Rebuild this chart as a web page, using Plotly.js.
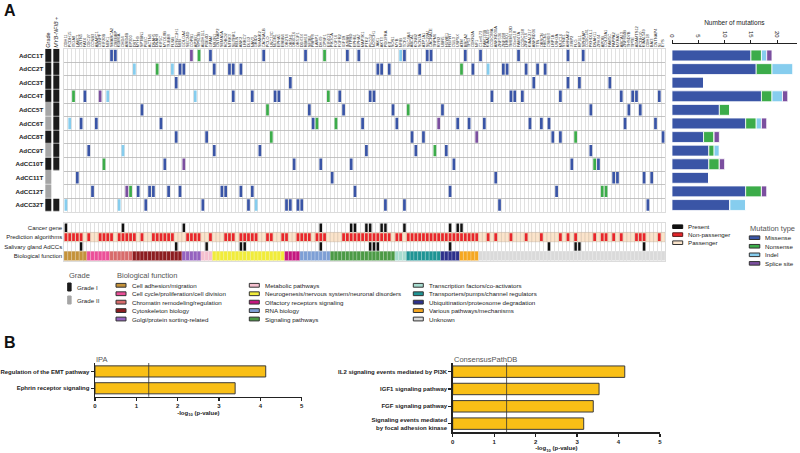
<!DOCTYPE html>
<html>
<head>
<meta charset="utf-8">
<script src="https://cdn.plot.ly/plotly-3.0.1.min.js"></script>
<style>
  body { margin: 0; background: #fff; }
  #chart { width: 800px; height: 453px; }
</style>
</head>
<body>
<div id="chart"></div>
<script>
// ---- data ----
const samples = ['AdCC1T', 'AdCC2T', 'AdCC3T', 'AdCC4T', 'AdCC5T', 'AdCC6T', 'AdCC8T', 'AdCC9T', 'AdCC10T', 'AdCC11T', 'AdCC12T', 'AdCC32T'];
const grade = [1, 1, 1, 1, 2, 2, 1, 2, 1, 2, 2, 1];
const mybNfib = [1, 1, 1, 1, 1, 1, 1, 1, 1, 0, 0, 1];

const genes = ('CDH11 PCDH15 ITGA8 LAMC1 CNTN5 FAT4 CDC27 CCNB3 ANAPC1 CENPF KIF20B NEK1 ' +
  'SMARCA2 CREBBP KDM6A CHD4 ARID4B EP300 DST MYH9 SPTBN1 PLEC ACTN4 DNAH5 DNAH9 KIF5C MYO18B TUBB8 FLNB DYNC1H1 NEB ' +
  'GOLGA4 SEC24D COPB1 AP3B1 VPS13B ALDH1L1 PDE4D GPAM ' +
  'NRXN1 CNTNAP2 SEMA5A ROBO2 NTRK3 SLITRK1 RELN ANK2 LRRC7 DLG2 NAV3 GRID2 SHANK2 CACNA1B PCLO UNC13C NLGN1 EPHA5 ERBB4 ' +
  'OR2T4 OR5H1 OR4C16 OR51F1 DDX3X RBM10 SF3B1 PRPF8 LARP1 DHX9 CPSF1 EIF4G3 ' +
  'PIK3CA FGF16 FGFR2 IGF1R INSRR PTPRD EPHB1 EPHA7 MAP3K1 PTK2 PLCG2 NOTCH1 JAK1 AKT3 PDGFRA KIT SOS1 ' +
  'MYB NFIB TCF4 SLC4A4 ABCA1 KCNB2 SCN3A ATP1A1 SLC22A1 CACNA1E TRPM6 RYR2 UBR5 HUWE1 FBXW7 CUL3 USP9X ATM BRCA2 TP53 CDKN2A NF1 ' +
  'C1orf173 FAM135B KIAA1109 CCDC88A ANKRD30A ZNF536 ZNF208 LRRIQ1 TMEM132D C6orf118 FAM47A CCDC168 ZNF716 KIAA1217 ANKRD36 TTN OBSCN ' +
  'HMCN1 CSMD3 LRP1B USH2A MUC16 SYNE1 AHNAK2 XIRP2 FLG RP1L1 SPHKAP CCDC141 PKHD1L1 DNAH11 ZFHX4 APOB COL22A1 FAM5C PAPPA2 MXRA5 ' +
  'ABCA13 ZNF804B THSD7B TPTE ADAMTS12 PCDH10 KIAA1549 CDH18 BAI3 CNTNAP4 SI EYS').split(' ');

// mutated gene columns per sample (one list per row)
const missense = [
  [12, 13, 38, 52, 63, 74, 77, 89, 95, 96, 105, 109, 119, 132, 136],
  [30, 31, 39, 43, 44, 46, 82, 83, 85, 93, 107, 115, 116, 121, 124, 126],
  [29, 59, 123, 132, 135, 143],
  [5, 44, 49, 55, 56, 72, 80, 81, 112, 117, 118, 120, 130, 146, 149, 150, 156],
  [20, 64, 73, 86, 99, 138, 148, 151],
  [4, 8, 25, 65, 78, 87, 103, 106, 110, 122, 125, 127, 147, 155],
  [29, 37, 91, 94, 128, 130, 157],
  [6, 39, 51, 79, 92, 100, 138],
  [26, 60, 67, 75, 102, 133, 140],
  [3, 70, 113, 144, 145, 152, 154],
  [7, 19, 22, 23, 27, 30, 41, 42, 46, 49, 76, 101, 129],
  [21, 36, 48, 58, 59, 61, 62, 84, 89, 114, 153]
];
const nonsense = [[35, 68], [24, 104], [], [2, 69], [53, 90], [66, 71], [54, 134], [97], [10, 139], [], [17, 141, 142], []];
const indel = [[88], [18, 28, 111], [], [11, 34], [], [1], [], [15], [], [], [], [0, 14, 50]];
const splice = [[33], [], [], [9], [], [98], [108], [], [31], [], [16], []];

// bar chart: number of mutations per sample
const missenseCount = [15, 16, 6, 17, 9, 14, 6, 7, 7, 7, 14, 11];
const nonsenseCount = [2, 3, 0, 2, 2, 2, 2, 1, 2, 0, 3, 0];
const indelCount = [1, 4, 0, 2, 0, 1, 0, 1, 0, 0, 0, 3];
const spliceCount = [1, 0, 0, 1, 0, 1, 1, 0, 1, 0, 1, 0];

// annotation rows
const cancerGene = [0, 15, 31, 67, 75, 76, 79, 80, 83, 84, 89, 101, 103, 104];
const nonPassenger = [0, 1, 2, 3, 4, 6, 9, 10, 11, 12, 14, 15, 16, 17, 18, 20, 23, 24, 25, 26, 27, 28,
  32, 33, 34, 35, 38, 42, 43, 44, 46, 47, 48, 49, 50, 53, 54, 57, 58, 61, 62, 63, 64, 66, 67, 68,
  73, 74, 75, 76, 77, 78, 79, 80, 81, 82, 83, 84, 85, 87, 88, 90, 91, 92, 93, 94, 95, 96, 97, 98, 99,
  100, 101, 102, 103, 104, 105, 106, 107, 108, 111, 113, 117, 121, 125, 130, 132, 134, 139, 141, 142,
  144, 146, 150, 151, 152, 156];
const salivaryAdcc = [4, 29, 37, 46, 47, 67, 80, 81, 82, 101, 127, 134, 135, 152];
const annotRows = ['Cancer gene', 'Prediction algorithms', 'Salivary gland AdCCs', 'Biological function'];

const bioNames = ['Cell adhesion/migration', 'Cell cycle/proliferation/cell division', 'Chromatin remodeling/regulation',
  'Cytoskeleton biology', 'Golgi/protein sorting-related', 'Metabolic pathways',
  'Neurogenesis/nervous system/neuronal disorders', 'Olfactory receptors signaling', 'RNA biology', 'Signaling pathways',
  'Transcription factors/co-activators', 'Transporters/pumps/channel regulators', 'Ubiquitination/proteosome degradation',
  'Various pathways/mechanisms', 'Unknown'];
const bioCounts = [6, 6, 6, 13, 5, 3, 19, 4, 8, 17, 3, 9, 5, 5, 49];
const bioColors = ['#c4923a', '#ec4f98', '#d86b6b', '#8c1c20', '#9562bf', '#f5c0cf', '#f1ec3a', '#c5167f',
  '#7d9fd5', '#4b9a45', '#a7dccf', '#1e9494', '#2c308b', '#f5a720', '#dadada'];

// panel B
const ipaPathways = ['Regulation of the EMT pathway', 'Ephrin receptor signaling'];
const ipaValues = [4.13, 3.39];
const cpdbPathways = ['IL2 signaling events mediated by PI3K', 'IGF1 signaling pathway', 'FGF signaling pathway',
  'Signaling events mediated<br>by focal adhesion kinase'];
const cpdbValues = [4.15, 3.53, 3.39, 3.16];
const pThreshold = 1.3; // -log10(0.05)

// ---- styling ----
const FONT = 'Liberation Sans, Arial, sans-serif';
const W = 800, H = 453;
const fx = px => px / W;
const fy = py => 1 - py / H;
const mutColors = ['#3a55a6', '#3cac4a', '#86cdee', '#7b4f9f'];
const mutNames = ['Missense', 'Nonsense', 'Indel', 'Splice site'];
const nCols = genes.length;
const colIdx = genes.map((g, i) => i);
const gridX = [fx(64), fx(665)];
const gridY = [fy(211.8), fy(48.7)];
const gridLine = '#c4c4c4';

function rowMarks(lists, color, xa, ya, width, height) {
  const x = [], base = [];
  lists.forEach((cols, r) => cols.forEach(c => { x.push(c); base.push(r - height / 2); }));
  return {
    type: 'bar', x: x, y: x.map(() => height), base: base, width: width,
    marker: {color: color, line: {width: 0}}, xaxis: xa, yaxis: ya, hoverinfo: 'skip'
  };
}

const traces = [];

// mutation matrix
[missense, nonsense, indel, splice].forEach((lists, k) => {
  traces.push(rowMarks(lists, mutColors[k], 'x', 'y', 0.72, 0.84));
});

// grade / MYB-NFIB columns
traces.push({
  type: 'heatmap', xaxis: 'x2', yaxis: 'y2',
  x: [0, 1], y: samples.map((s, i) => i),
  z: samples.map((s, i) => [grade[i] === 1 ? 1 : 2, mybNfib[i] ? 1 : 0]),
  zmin: 0, zmax: 2, showscale: false, xgap: 2, ygap: 0.6, hoverinfo: 'skip',
  colorscale: [[0, '#ffffff'], [0.25, '#ffffff'], [0.25, '#1b1b1b'], [0.75, '#1b1b1b'], [0.75, '#a5a5a5'], [1, '#a5a5a5']]
});

// stacked number-of-mutation bars
let cum = samples.map(() => 0);
[missenseCount, nonsenseCount, indelCount, spliceCount].forEach((vals, k) => {
  traces.push({
    type: 'bar', orientation: 'h', xaxis: 'x3', yaxis: 'y3',
    y: samples.map((s, i) => i), x: vals, base: cum.slice(), width: 0.8,
    marker: {color: mutColors[k], line: {color: '#ffffff', width: 0.8}}, hoverinfo: 'skip'
  });
  cum = cum.map((c, i) => c + vals[i]);
});

// annotation rows
traces.push(rowMarks([cancerGene], '#111111', 'x4', 'y4', 0.66, 0.9));
traces.push({
  type: 'bar', xaxis: 'x4', yaxis: 'y4', x: colIdx, y: colIdx.map(() => 1), base: 0.5, width: 1,
  marker: {color: '#fbe4cb', line: {color: 'rgba(190,170,150,0.6)', width: 0.5}}, hoverinfo: 'skip'
});
traces.push(rowMarks([[], nonPassenger], '#e8262b', 'x4', 'y4', 0.72, 0.84));
traces.push(rowMarks([[], [], salivaryAdcc], '#111111', 'x4', 'y4', 0.66, 0.9));
let start = 0;
bioCounts.forEach((n, k) => {
  const cols = [];
  for (let c = start; c < start + n; c++) cols.push(c);
  start += n;
  traces.push({
    type: 'bar', xaxis: 'x4', yaxis: 'y4', x: cols, y: cols.map(() => 1), base: 2.5, width: 1,
    marker: {color: bioColors[k], line: {color: 'rgba(255,255,255,0.45)', width: 0.5}}, hoverinfo: 'skip'
  });
});

// panel B bars
const goldBar = {color: '#f9bf16', line: {color: '#3a3a3a', width: 1}};
traces.push({type: 'bar', orientation: 'h', xaxis: 'x5', yaxis: 'y5', y: ipaPathways, x: ipaValues, width: 0.66, marker: goldBar, hoverinfo: 'skip'});
traces.push({type: 'bar', orientation: 'h', xaxis: 'x6', yaxis: 'y6', y: cpdbPathways, x: cpdbValues, width: 0.66, marker: goldBar, hoverinfo: 'skip'});

// ---- axes ----
const hidden = {showgrid: false, zeroline: false, showticklabels: false, ticks: '', showline: false, fixedrange: true};

const bAxisX = (dom, anchor) => ({
  domain: dom, anchor: anchor, range: [0, 5], tickvals: [0, 1, 2, 3, 4, 5],
  ticks: 'outside', ticklen: 3, tickwidth: 1.2, tickcolor: '#222', showline: true, linecolor: '#222', linewidth: 1.4,
  showgrid: false, zeroline: false, tickfont: {size: 6, weight: 'bold', color: '#222'},
  title: {text: '-log<sub>10</sub> (p-value)', font: {size: 6, weight: 'bold', color: '#222'}, standoff: 2}
});
const bAxisY = (dom, anchor) => ({
  domain: dom, anchor: anchor, type: 'category', autorange: 'reversed',
  ticks: 'outside', ticklen: 3, tickwidth: 1.2, tickcolor: '#222', showline: true, linecolor: '#222', linewidth: 1.4,
  showgrid: false, zeroline: false, tickfont: {size: 6, weight: 'bold', color: '#222'}
});

const layout = {
  width: W, height: H,
  margin: {l: 0, r: 0, t: 0, b: 0},
  paper_bgcolor: '#ffffff', plot_bgcolor: '#ffffff',
  font: {family: FONT, size: 6, color: '#222'},
  barmode: 'overlay', showlegend: false,

  xaxis: {
    domain: gridX, anchor: 'y', range: [-0.5, nCols - 0.5], side: 'top',
    tickmode: 'array', tickvals: colIdx, ticktext: genes, tickangle: -90,
    tickfont: {size: 4, color: '#333'}, ticks: '', showgrid: false, zeroline: false,
    showline: true, linecolor: gridLine, linewidth: 0.6, mirror: true,
    minor: {tick0: 0.5, dtick: 1, showgrid: true, gridcolor: gridLine, gridwidth: 0.5, ticks: ''}, fixedrange: true
  },
  yaxis: {
    domain: gridY, anchor: 'x', range: [samples.length - 0.5, -0.5], showticklabels: false, ticks: '',
    showgrid: false, zeroline: false, showline: true, linecolor: gridLine, linewidth: 0.6, mirror: true,
    minor: {tick0: 0.5, dtick: 1, showgrid: true, gridcolor: '#b5b5b5', gridwidth: 0.8, ticks: ''}, fixedrange: true
  },

  xaxis2: {
    domain: [fx(44.3), fx(60.3)], anchor: 'y2', range: [-0.5, 1.5], side: 'top',
    tickmode: 'array', tickvals: [0, 1], ticktext: ['Grade', '<i>MYB-NFIB</i> +'], tickangle: -90,
    tickfont: {size: 5.5, color: '#222'}, ticks: '', showgrid: false, zeroline: false, showline: false
  },
  yaxis2: {
    domain: gridY, anchor: 'x2', range: [samples.length - 0.5, -0.5],
    tickmode: 'array', tickvals: samples.map((s, i) => i), ticktext: samples,
    tickfont: {size: 6.2, weight: 'bold', color: '#222'}, ticks: '', showgrid: false, zeroline: false, showline: false
  },

  xaxis3: {
    domain: [fx(672), fx(796.7)], anchor: 'free', position: fy(42.7), side: 'top', range: [0, 23.7],
    tickvals: [0, 5, 10, 15, 20], tickangle: 90, ticks: 'outside', ticklen: 3, tickwidth: 1, tickcolor: '#222',
    showline: true, linecolor: '#222', linewidth: 1.2, showgrid: false, zeroline: false,
    tickfont: {size: 6, color: '#222'},
    title: {text: 'Number of mutations', font: {size: 6.5, color: '#222'}, standoff: 3}
  },
  yaxis3: Object.assign({}, hidden, {domain: gridY, anchor: 'x3', range: [samples.length - 0.5, -0.5]}),

  xaxis4: Object.assign({}, hidden, {
    domain: gridX, anchor: 'y4', range: [-0.5, nCols - 0.5], showline: true, linecolor: gridLine, linewidth: 0.6, mirror: true,
    minor: {tick0: 0.5, dtick: 1, showgrid: true, gridcolor: gridLine, gridwidth: 0.5, ticks: ''}
  }),
  yaxis4: {
    domain: [fy(260.7), fy(223)], anchor: 'x4', range: [3.5, -0.5],
    tickmode: 'array', tickvals: [0, 1, 2, 3], ticktext: annotRows, tickfont: {size: 6, color: '#222'},
    ticks: '', showgrid: false, zeroline: false, showline: true, linecolor: gridLine, linewidth: 0.6, mirror: true,
    minor: {tick0: 0.5, dtick: 1, showgrid: true, gridcolor: gridLine, gridwidth: 0.6, ticks: ''}
  },

  xaxis5: bAxisX([fx(95), fx(301.7)], 'y5'),
  yaxis5: bAxisY([fy(396.7), fy(363)], 'x5'),
  xaxis6: bAxisX([fx(452.7), fx(660)], 'y6'),
  yaxis6: bAxisY([fy(432.3), fy(363)], 'x6'),

  shapes: [
    {type: 'line', xref: 'x5', yref: 'y5 domain', x0: pThreshold, x1: pThreshold, y0: 0, y1: 1, line: {color: '#333', width: 0.8}},
    {type: 'line', xref: 'x6', yref: 'y6 domain', x0: pThreshold, x1: pThreshold, y0: 0, y1: 1, line: {color: '#333', width: 0.8}}
  ],
  annotations: [
    {text: '<b>A</b>', x: fx(2), y: fy(10), xanchor: 'left', yanchor: 'middle', font: {size: 16, color: '#111'}},
    {text: '<b>B</b>', x: fx(2), y: fy(342), xanchor: 'left', yanchor: 'middle', font: {size: 16, color: '#111'}},
    {text: 'IPA', x: fx(94), y: fy(359), xanchor: 'left', yanchor: 'middle', font: {size: 7.5, color: '#555'}},
    {text: 'ConsensusPathDB', x: fx(452), y: fy(359), xanchor: 'left', yanchor: 'middle', font: {size: 7.5, color: '#555'}}
  ]
};

// ---- hand-drawn legends ----
function legendItem(x, y, w, h, fill, edge, label, size) {
  layout.shapes.push({
    type: 'rect', xref: 'paper', yref: 'paper',
    x0: fx(x), x1: fx(x + w), y0: fy(y + h / 2), y1: fy(y - h / 2),
    fillcolor: fill, line: {color: edge, width: 1}
  });
  layout.annotations.push({
    text: label, x: fx(x + w + 3.5), y: fy(y), xanchor: 'left', yanchor: 'middle',
    font: {size: size || 6.2, color: '#222'}
  });
}
function legendTitle(x, y, text) {
  layout.annotations.push({text: text, x: fx(x - 1), y: fy(y), xanchor: 'left', yanchor: 'middle', font: {size: 7.5, color: '#555'}});
}

legendItem(672.7, 226.7, 10, 3.6, '#111111', '#111111', 'Present');
legendItem(672.7, 234.6, 10, 3.6, '#e8262b', '#5a1a1a', 'Non-passenger');
legendItem(672.7, 242.7, 10, 3.6, '#fbe4cb', '#333333', 'Passenger');

legendTitle(749.3, 228.5, 'Mutation type');
mutNames.forEach((m, k) => legendItem(749.3, 237.7 + k * 8.55, 10.5, 3.6, mutColors[k], '#333333', m));

legendTitle(67.7, 275.7, 'Grade');
legendItem(67.7, 287, 3.4, 8, '#1b1b1b', '#1b1b1b', 'Grade I');
legendItem(67.7, 300, 3.4, 8, '#a5a5a5', '#a5a5a5', 'Grade II');

legendTitle(116, 275.7, 'Biological function');
const bioColX = [116, 249.3, 413.3];
bioNames.forEach((name, k) => {
  const col = Math.floor(k / 5), row = k % 5;
  legendItem(bioColX[col], 285.3 + row * 8.43, 10, 3.8, bioColors[k], '#333333', name);
});

layout.annotations.forEach(a => { a.showarrow = false; a.xref = 'paper'; a.yref = 'paper'; });

Plotly.newPlot('chart', traces, layout, {displayModeBar: false, staticPlot: true});
</script>
</body>
</html>
